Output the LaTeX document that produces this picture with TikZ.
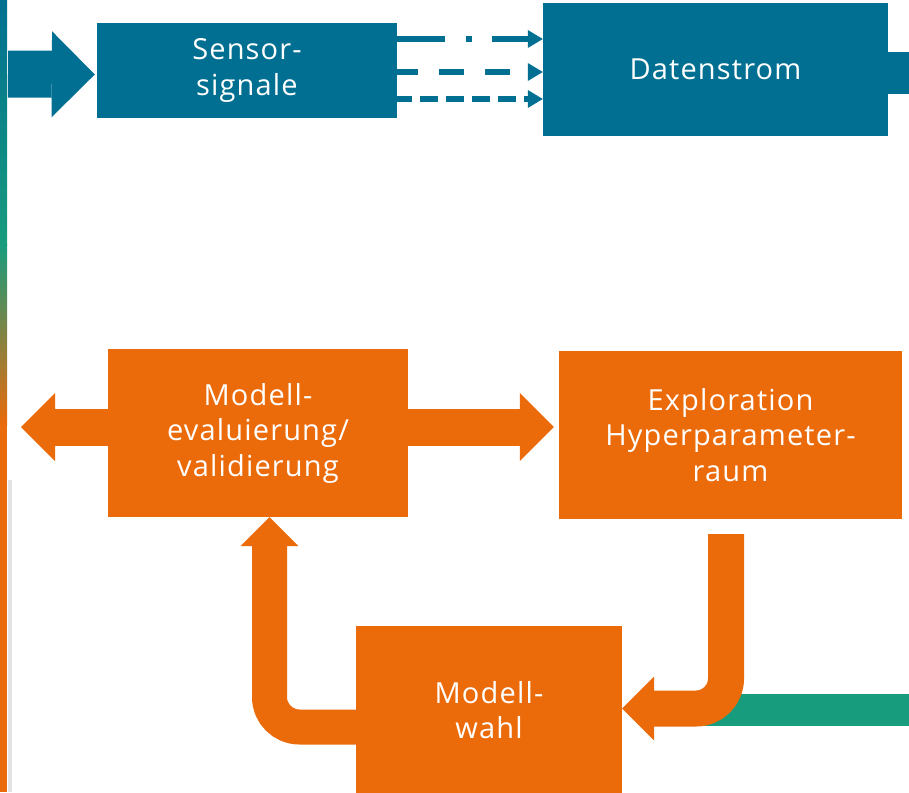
\documentclass[tikz,border=0pt]{standalone}
\usepackage{fontspec}
\setmainfont{Open Sans}[LetterSpace=4]
\usetikzlibrary{arrows.meta,calc}

\definecolor{fblue}{RGB}{0,111,145}
\definecolor{forange}{RGB}{235,106,10}
\definecolor{fgreen}{RGB}{23,156,125}
\definecolor{edgegray}{RGB}{226,226,226}

\tikzset{
  box/.style={draw=none, inner sep=0pt, align=center, text=white,
    font=\fontsize{29}{35.5}\selectfont},
  bluebox/.style={box, fill=fblue},
  orangebox/.style={box, fill=forange},
  fatarrow/.style={line cap=butt, line join=miter},
}

\begin{document}
\begin{tikzpicture}[x=1pt,y=-1pt]
  \useasboundingbox (0,0) rectangle (909,792);

  % left edge bar: blue at the top, green, then orange
  \shade[top color=fblue, bottom color=fgreen] (0,0) rectangle (7,245);
  \shade[top color=fgreen, bottom color=forange] (0,244.5) rectangle (7,425);
  \fill[forange] (0,424.5) rectangle (7,792);
  \fill[edgegray] (8,480) rectangle (12,792);

  % boxes
  \node[bluebox, minimum width=300pt, minimum height=95pt] (sens) at (247,70.5) {Sensor-\\signale};
  \node[bluebox, minimum width=345pt, minimum height=133pt] (dat) at (715.5,69.5) {Datenstrom};
  \node[orangebox, minimum width=300pt, minimum height=168pt] (eval) at (258,433) {Modell-\\evaluierung/\\validierung};
  \node[orangebox, minimum width=343pt, minimum height=168pt] (explo) at (730.5,435) {Exploration\\Hyperparameter-\\raum};
  \node[orangebox, minimum width=266pt, minimum height=168pt] (wahl) at (489,710) {Modell-\\wahl};

  % free ends
  \coordinate (inA) at (8,74);
  \coordinate (outD) at (909,73);
  \coordinate (outL) at (21,427);
  \coordinate (inG) at (909,710);

  % incoming signal arrow
  \draw[fatarrow, fblue, line width=47pt,
        -{Triangle[width=86pt,length=43pt,line width=0pt]}]
    (inA) -- ([xshift=-2pt,yshift=-4pt]sens.west);

  % outgoing stub of the data stream
  \draw[fatarrow, fblue, line width=42pt] ([yshift=-3.5pt]dat.east) -- (outD);

  % three dashed signal lines
  \draw[fblue, line width=6pt, dash pattern=on 48pt off 21pt on 6pt off 20pt,
        -{Triangle[width=18pt,length=15pt,line width=0pt]}]
    ([yshift=31.5pt]sens.east) -- ([yshift=31.5pt]sens.east -| dat.west);
  \draw[fblue, line width=6pt, dash pattern=on 25pt off 21pt, dash phase=4pt,
        -{Triangle[width=18pt,length=15pt,line width=0pt]}]
    ([yshift=-1.5pt]sens.east) -- ([yshift=-1.5pt]sens.east -| dat.west);
  \draw[fblue, line width=6pt, dash pattern=on 18pt off 8pt, dash phase=3pt,
        -{Triangle[width=18pt,length=15pt,line width=0pt]}]
    ([yshift=-28.5pt]sens.east) -- ([yshift=-28.5pt]sens.east -| dat.west);

  % evaluation arrows
  \draw[fatarrow, forange, line width=37pt,
        -{Triangle[width=68pt,length=34pt,line width=0pt]}]
    ([yshift=6pt]eval.west) -- (outL);
  \draw[fatarrow, forange, line width=37pt,
        -{Triangle[width=68pt,length=34pt,line width=0pt]}]
    ([yshift=6pt]eval.east) -- ([yshift=6pt,xshift=-5pt]eval.east -| explo.west);

  % green feed into the model choice
  \draw[fatarrow, fgreen, line width=32pt] (inG) -- ([xshift=40pt]wahl.east);

  % loop: exploration -> model choice -> evaluation
  \draw[fatarrow, forange, line width=36pt, rounded corners=30pt,
        -{Triangle[width=64pt,length=32pt,line width=0pt]}]
    ([xshift=-4.5pt,yshift=-15pt]explo.south) |- ([yshift=1.5pt]wahl.east);
  \draw[fatarrow, forange, line width=35pt, rounded corners=30pt,
        -{Triangle[width=58pt,length=29pt,line width=0pt]}]
    ([yshift=-17pt]wahl.west) -| ([xshift=11.5pt]eval.south);
\end{tikzpicture}
\end{document}
